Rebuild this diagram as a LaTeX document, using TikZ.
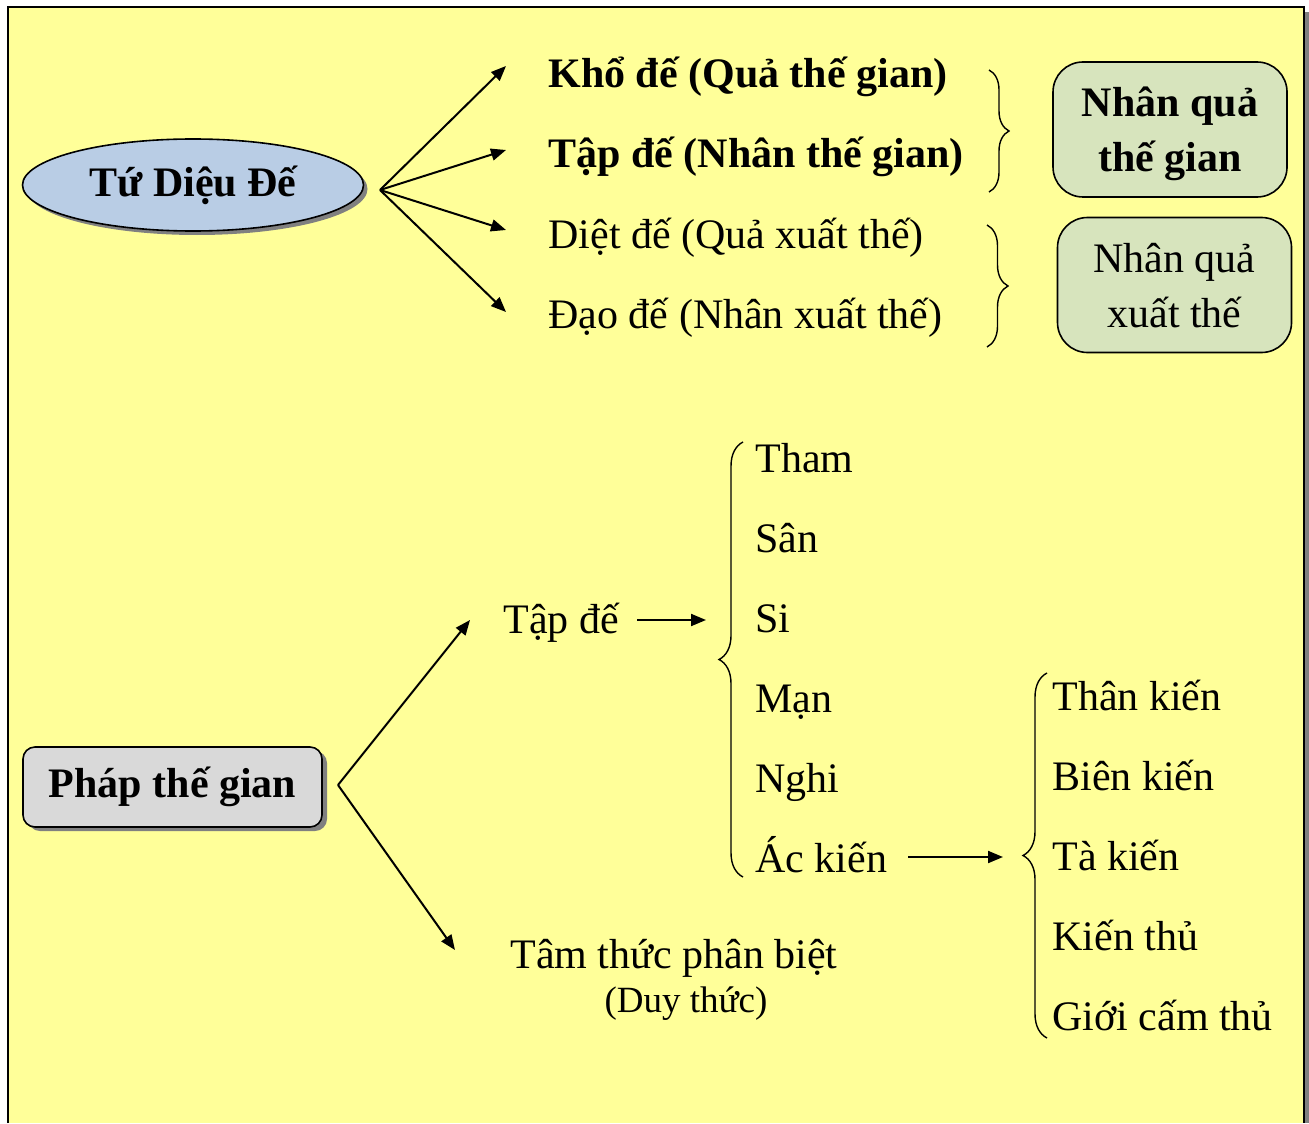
\documentclass[tikz,border=0pt]{standalone}
\usepackage{fontspec}
\setmainfont{Liberation Serif}
\usetikzlibrary{arrows.meta,shapes.geometric,shadows,decorations.pathreplacing}
\definecolor{bgyellow}{RGB}{255,255,153}
\definecolor{ellblue}{RGB}{185,205,229}
\definecolor{boxgreen}{RGB}{215,228,189}
\definecolor{boxgray}{RGB}{217,217,217}
\newcommand{\bigfont}{\fontsize{21}{27.5}\selectfont}
\newcommand{\smallfont}{\fontsize{18.5}{22}\selectfont}
\tikzset{
  txt/.style={anchor=base west, inner sep=0pt, font=\bigfont},
  btxt/.style={txt, font=\bigfont\bfseries},
  arr/.style={line width=1pt, -{Triangle[length=7.5pt,width=6pt]}},
  brc/.style={line width=0.7pt, decorate, decoration={brace, amplitude=#1}},
  brc/.default=10pt,
  ell/.style={ellipse, draw, line width=0.8pt, fill=ellblue, inner sep=0pt,
    minimum width=170.5pt, minimum height=46pt, font=\bigfont\bfseries,
    drop shadow={shadow xshift=2pt, shadow yshift=-2pt, fill=gray, opacity=1}},
  pbox/.style={rectangle, rounded corners=6pt, draw, line width=0.8pt, fill=boxgray,
    inner sep=0pt, minimum width=149.5pt, minimum height=40pt, font=\bigfont\bfseries,
    drop shadow={shadow xshift=2.5pt, shadow yshift=-2pt, fill=gray, opacity=1}},
  gbox/.style={rectangle, rounded corners=15pt, draw, line width=0.8pt, fill=boxgreen,
    inner sep=0pt, minimum width=117pt, minimum height=67.5pt, align=center,
    text depth=0pt, font=\bigfont},
}
\begin{document}
\begin{tikzpicture}[x=0.5pt, y=-0.5pt]
	\useasboundingbox (0,0) rectangle (1309,1123);
	\fill[bgyellow] (8,7) rectangle (1304,1123);
	\fill[gray] (1305,12) rectangle (1309,1123);
	\draw[line width=1pt] (8,1123) -- (8,7) -- (1304,7) -- (1304,1123);
	
	\node[ell] (tu) at (193,185) {Tứ Diệu Đế};
	
	\node[btxt] (kho) at (548,88) {Khổ đế (Quả thế gian)};
	\node[btxt] (tap) at (548,168) {Tập đế (Nhân thế gian)};
	\node[txt] (diet) at (548,248) {Diệt đế (Quả xuất thế)};
	\node[txt] (dao) at (548,328) {Đạo đế (Nhân xuất thế)};
	
	\coordinate (hub1) at (380,190);
	\coordinate (t1) at (506,66);
	\coordinate (t2) at (506,150);
	\coordinate (t3) at (506,230);
	\coordinate (t4) at (506,312);
	\foreach \n in {1,2,3,4}
		\draw[arr] (hub1) -- (t\n);
	
	\draw[brc] (989,70) -- (989,192);
	\draw[brc=10.5pt] (987,225) -- (987,347);
	
	\node[gbox, font=\bigfont\bfseries] (ngian) at (1170,129.5) {Nhân quả\\thế gian};
	\node[gbox] (nxuat) at (1174.5,285) {Nhân quả\\xuất thế};
	
	\node[pbox] (phap) at (172.5,787) {Pháp thế gian};
	
	\coordinate (hub2) at (338,785);
	\coordinate (up) at (470,620);
	\coordinate (down) at (455,950);
	\draw[arr] (hub2) -- (up);
	\draw[arr] (hub2) -- (down);
	
	\node[txt] (tapde) at (503,633) {Tập đế};
	\coordinate (ta) at (637,620);
	\coordinate (tb) at (706,620);
	\draw[arr] (ta) -- (tb);
	
	\draw[brc=12pt] (743,877) -- (743,442);
	\node[txt] (tham) at (755,472) {Tham};
	\node[txt] (san) at (755,552) {Sân};
	\node[txt] (si) at (755,632) {Si};
	\node[txt] (man) at (755,712) {Mạn};
	\node[txt] (nghi) at (755,792) {Nghi};
	\node[txt] (ackien) at (755,872) {Ác kiến};
	
	\coordinate (aa) at (908,857);
	\coordinate (ab) at (1003,857);
	\draw[arr] (aa) -- (ab);
	
	\draw[brc=12pt] (1047,1038) -- (1047,673);
	\node[txt] (than) at (1052,710) {Thân kiến};
	\node[txt] (bien) at (1052,790) {Biên kiến};
	\node[txt] (takien) at (1052,870) {Tà kiến};
	\node[txt] (kienthu) at (1052,950) {Kiến thủ};
	\node[txt] (gioi) at (1052,1030) {Giới cấm thủ};
	
	\node[txt] (tam) at (510,968) {Tâm thức phân biệt};
	\node[anchor=base, inner sep=0pt, font=\smallfont] (duy) at (686,1012) {(Duy thức)};
\end{tikzpicture}
\end{document}
